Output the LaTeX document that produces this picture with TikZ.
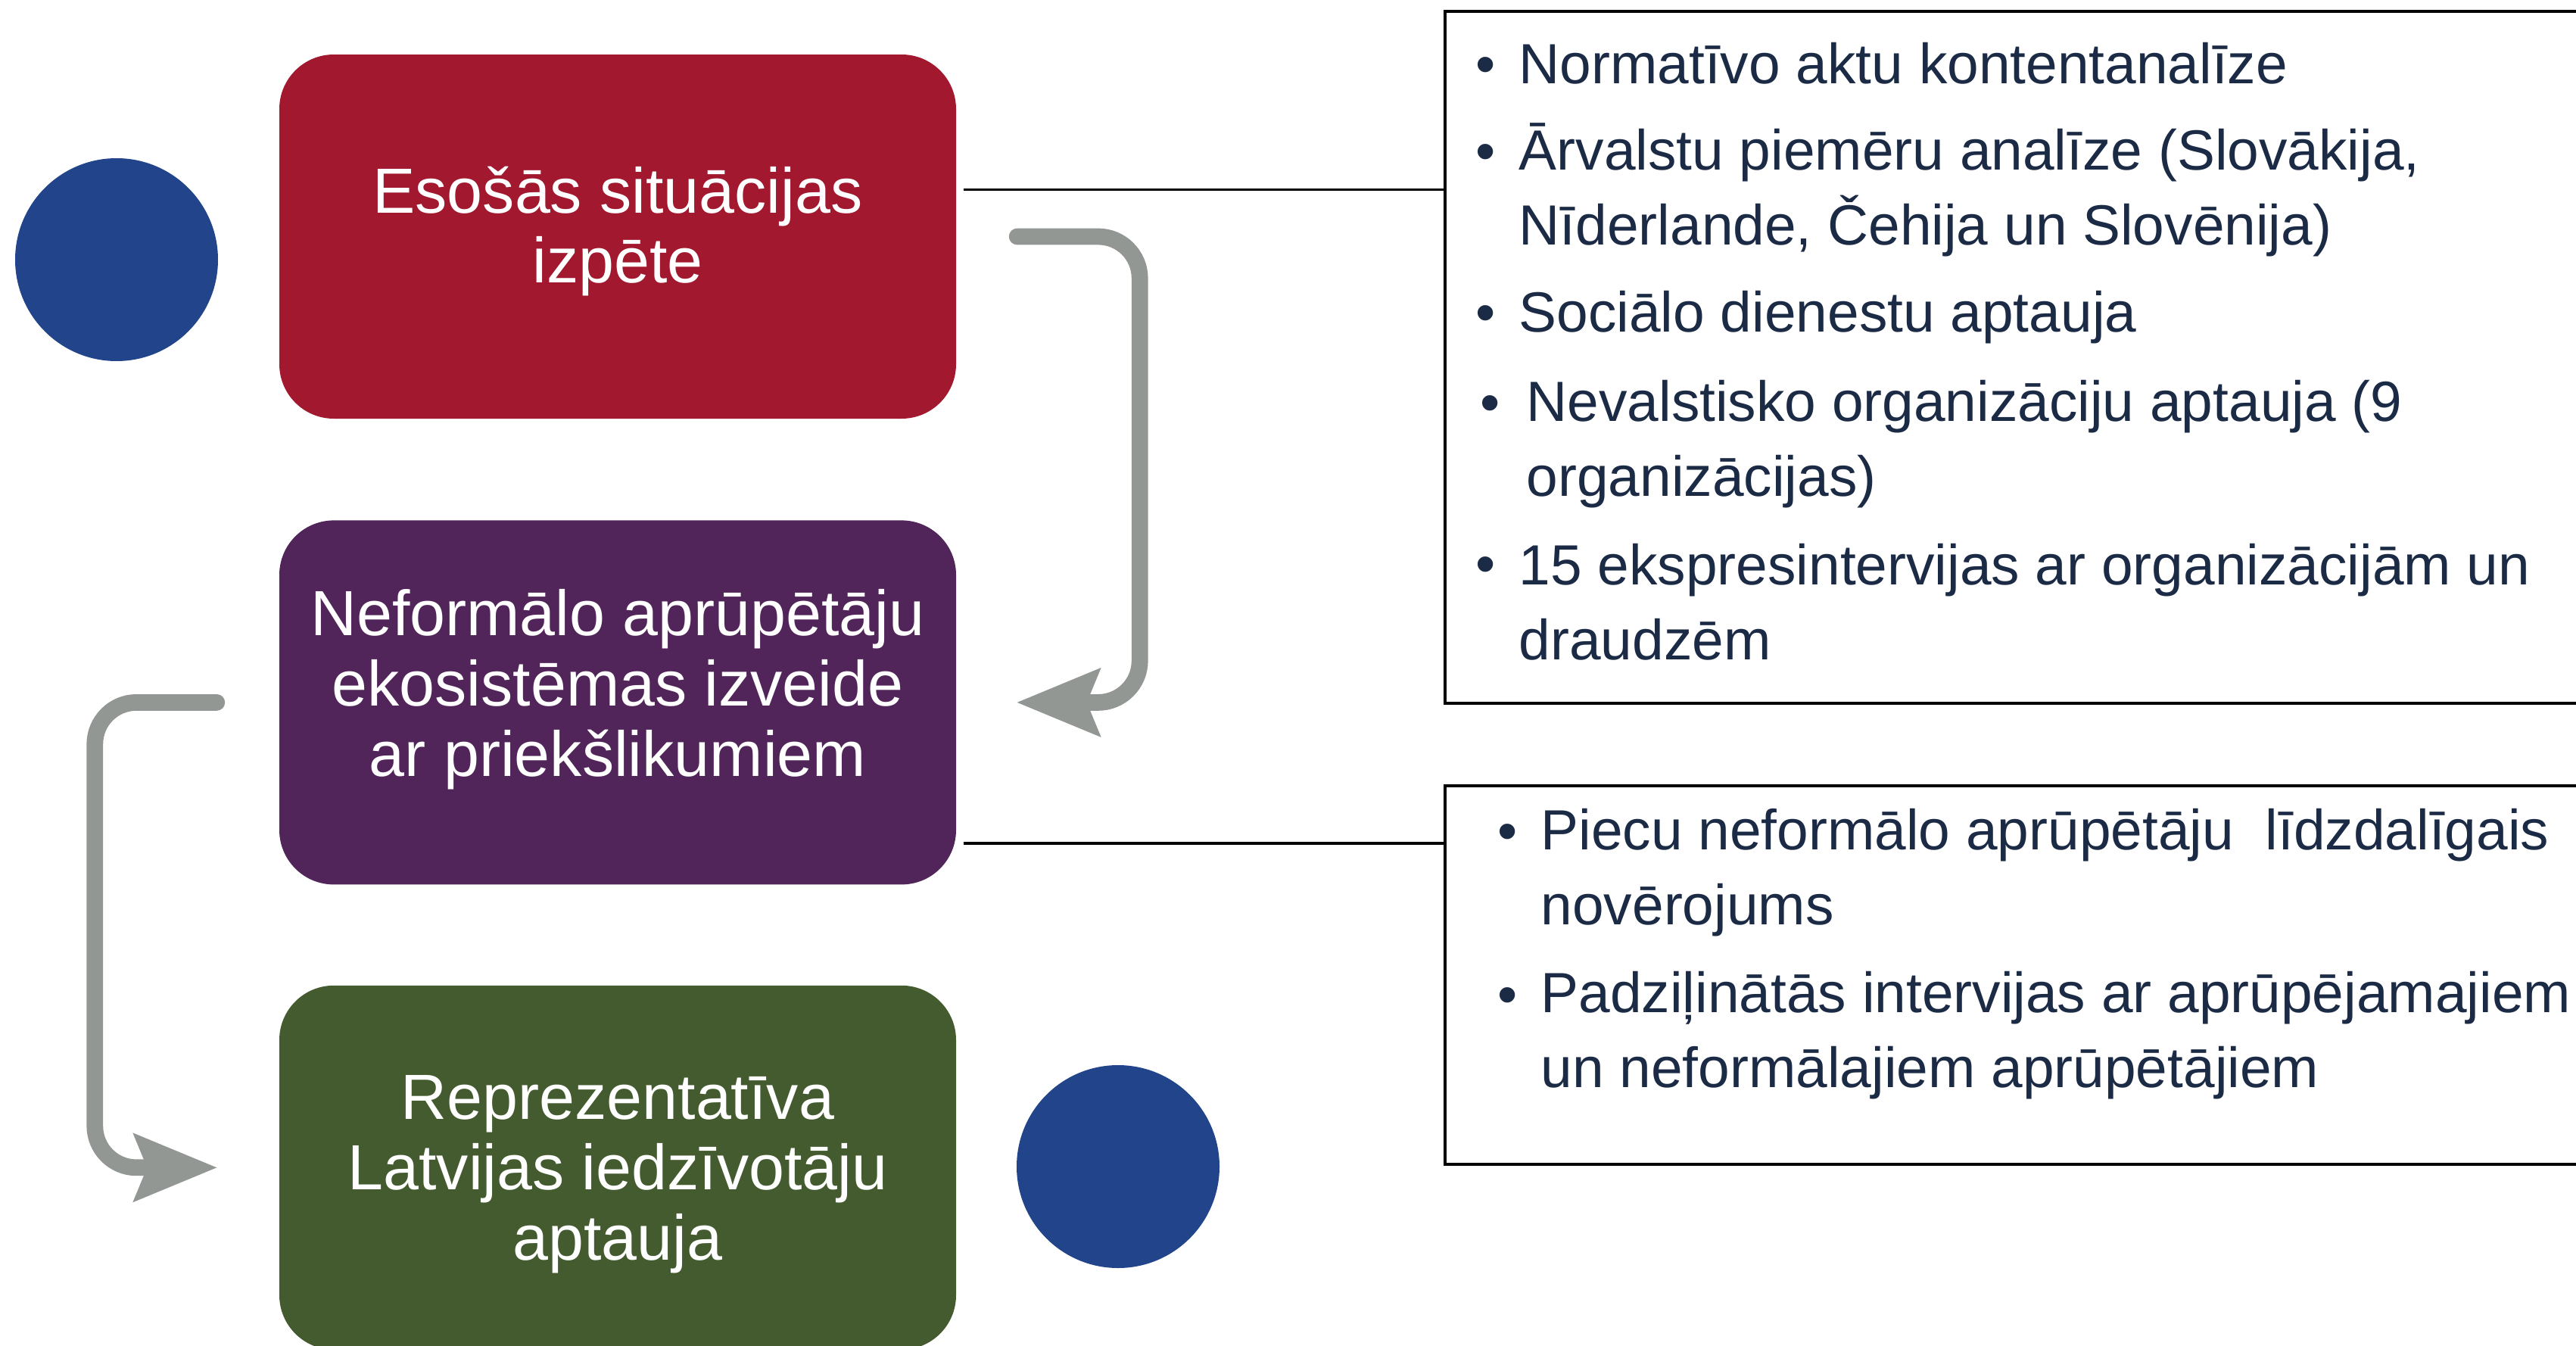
\documentclass[tikz,border=0pt]{standalone}
\usepackage{fontspec}
\setmainfont{Liberation Sans}
\usetikzlibrary{positioning,arrows.meta}

\definecolor{stagered}{HTML}{A1182F}
\definecolor{stagepurple}{HTML}{51245A}
\definecolor{stagegreen}{HTML}{435B2E}
\definecolor{dotblue}{HTML}{22448B}
\definecolor{flowgray}{HTML}{939794}
\definecolor{textnavy}{HTML}{1C2B45}

\begin{document}
\begin{tikzpicture}[
        node distance=1.33cm,
        stage/.style={rectangle, rounded corners=0.72cm, minimum width=8.94cm, minimum height=4.81cm},
        stagetext/.style={text=white, align=center, inner sep=0pt, font=\fontsize{24}{26.4}\selectfont},
        dot/.style={circle, fill=dotblue, minimum size=2.68cm, inner sep=0pt},
        infobox/.style={rectangle, draw=black, line width=1.4pt, fill=white},
        item/.style={anchor=base west, inner sep=0pt, align=left, text=textnavy, font=\fontsize{21.3}{28.1}\selectfont},
        bul/.style={anchor=base, inner sep=0pt, text=textnavy, font=\fontsize{21.3}{28.1}\selectfont},
        flow/.style={draw=flowgray, line width=6.2pt, line cap=round, rounded corners=0.55cm, -{Stealth[length=1.11cm, width=0.92cm, inset=0.19cm, line width=0pt]}},
        link/.style={draw=black, line width=1.1pt}
    ]
    \useasboundingbox (0,0) rectangle (34.03,-17.78);

        % Posmi
        \node[stage, fill=stagered, label={[stagetext, yshift=0.07cm]center:Esošās situācijas\\izpēte}] (red) at (8.16,-3.125) {};
        \node[stage, fill=stagepurple, below=of red, label={[stagetext, yshift=0.17cm]center:Neformālo aprūpētāju\\ekosistēmas izveide\\ar priekšlikumiem}] (purple) {};
        \node[stage, fill=stagegreen, below=1.32cm of purple, label={[stagetext, yshift=-0.09cm]center:Reprezentatīva\\Latvijas iedzīvotāju\\aptauja}] (green) {};

        % Apļi
        \node[dot] (dotA) at (1.54,-3.43) {};
        \node[dot] (dotB) at (14.77,-15.41) {};

        % Bultas
        \draw[flow] ([xshift=0.8cm]red.east) -- ++(1.62,0) |- ([xshift=0.8cm]purple.east);
        \draw[flow] ([xshift=-0.82cm]purple.west) -- ++(-1.61,0) |- ([xshift=-0.82cm]green.west);

        % Metodes
        \node[infobox, minimum width=15.4cm, minimum height=9.14cm] (info1) at (26.79,-4.72) {};
        \node[infobox, minimum width=15.4cm, minimum height=5.0cm] (info2) at (26.79,-12.88) {};

        \draw[link] ([shift={(0.09,0.62)}]red.east) coordinate (l1) -- (l1 -| info1.west);
        \draw[link] ([shift={(0.09,-1.86)}]purple.east) coordinate (l2) -- (l2 -| info2.west);

        % base = last line of each item
        \node[bul] (b1) at (19.63,-1.10) {•};
        \node[item] (m1) at (20.06,-1.10) {Normatīvo aktu kontentanalīze};
        \node[bul] (b2) at (19.63,-2.25) {•};
        \node[item] (m2) at (20.06,-3.23) {Ārvalstu piemēru analīze (Slovākija,\\Nīderlande, Čehija un Slovēnija)};
        \node[bul] (b3) at (19.63,-4.38) {•};
        \node[item] (m3) at (20.06,-4.38) {Sociālo dienestu aptauja};
        \node[bul] (b4) at (19.69,-5.57) {•};
        \node[item] (m4) at (20.16,-6.55) {Nevalstisko organizāciju aptauja (9\\organizācijas)};
        \node[bul] (b5) at (19.63,-7.70) {•};
        \node[item] (m5) at (20.06,-8.71) {15 ekspresintervijas ar organizācijām un\\draudzēm};

        \node[bul] (b6) at (19.92,-11.23) {•};
        \node[item] (m6) at (20.35,-12.21) {Piecu neformālo aprūpētāju\ \ līdzdalīgais\\novērojums};
        \node[bul] (b7) at (19.92,-13.39) {•};
        \node[item] (m7) at (20.35,-14.36) {Padziļinātās intervijas ar aprūpējamajiem\\un neformālajiem aprūpētājiem};

    \end{tikzpicture}
\end{document}
